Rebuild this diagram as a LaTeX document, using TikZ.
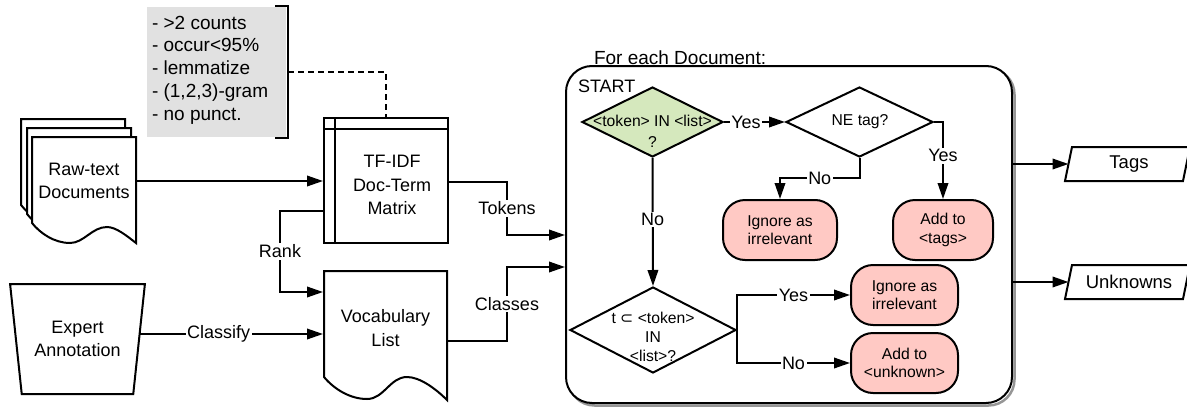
\documentclass[tikz,border=0pt]{standalone}
\usepackage{fontspec}
\setmainfont{Liberation Sans}
\newfontfamily\symfont{DejaVu Sans}
\usetikzlibrary{arrows.meta,shapes.geometric}
\definecolor{notegray}{RGB}{225,225,225}
\definecolor{decgreen}{RGB}{213,232,189}
\definecolor{endpink}{RGB}{255,201,196}
\definecolor{shadowgray}{RGB}{150,150,150}

\begin{document}
\begin{tikzpicture}[x=1pt,y=-1pt, line width=2pt,
  arr/.style={-{Triangle[length=16pt,width=10.5pt]}},
  big/.style={font=\fontsize{18}{23.5}\selectfont},
  sml/.style={font=\fontsize{15.7}{18.5}\selectfont},
  lbl/.style={fill=white, inner sep=1.5pt, font=\fontsize{18}{22}\selectfont},
  dec/.style={draw, shape=diamond, inner sep=0pt},
  term/.style={draw, fill=endpink, rounded corners=22pt, sml, align=center,
               minimum height=60pt, inner sep=0pt},
  docpage/.style={draw, fill=white},
]
\useasboundingbox (0,0) rectangle (1187,407);

% preprocessing note with bracket
\node[fill=notegray, minimum width=139, minimum height=130, anchor=north west,
      inner sep=0] (note) at (146,6) {};
\node[anchor=west, align=left, font=\fontsize{19}{22.8}\selectfont, inner sep=0]
  (notetext) at (151,70) {- >2 counts\\- occur<95\%\\- lemmatize\\- (1,2,3)-gram\\- no punct.};
\draw ([xshift=-12pt]note.north east) -- ([xshift=1pt]note.north east)
   -- ([xshift=1pt]note.south east) -- ([xshift=-12pt]note.south east);

% TF-IDF matrix
\node[draw, minimum width=124, minimum height=125, inner sep=0] (tf) at (386,180.5) {};
\draw ([xshift=12pt]tf.north west) -- ([xshift=12pt]tf.south west);
\draw ([yshift=-12pt]tf.north west) -- ([yshift=-12pt]tf.north east);
\node[big, align=center, inner sep=0] (tftext) at (392,185) {TF-IDF\\Doc-Term\\Matrix};
\draw[dashed, dash pattern=on 6pt off 4pt] ([xshift=1pt]note.east) -| (tf.north);

% stack of raw documents
\foreach \dx/\dy in {21/119, 27/128, 32/137}
  \draw[docpage, shift={(\dx,\dy)}] (0,0) -- (104,0) -- (104,106)
    .. controls (95,99) and (84,90) .. (75,90)
    .. controls (60,90) and (52,106) .. (38,106)
    .. controls (22,106) and (8,96) .. (0,86) -- cycle;
\node[big, align=center, minimum width=104, inner sep=0] (raw) at (84,181) {Raw-text\\Documents};
\draw[arr] (raw.east) -- (tf.west |- raw.east);

% expert annotation
\node[draw, trapezium, trapezium angle=76, shape border rotate=180,
      trapezium stretches=true, minimum width=135, minimum height=110,
      big, align=center, inner sep=0] (expert) at (77.5,339) {Expert\\Annotation};

% vocabulary list
\draw[docpage, shift={(324,271)}] (0,0) -- (123,0) -- (123,129)
  .. controls (112,118) and (96,106) .. (83,106)
  .. controls (66,106) and (60,128) .. (43,128)
  .. controls (26,128) and (10,118) .. (0,106) -- cycle;
\node[big, align=center, minimum width=123, inner sep=0] (voc) at (385.5,328) {Vocabulary\\List};

\coordinate (clsfrom) at ([yshift=5pt]expert.east);
\draw[arr] (clsfrom) -- node[lbl, pos=0.43]{Classify} (voc.west |- clsfrom);
\coordinate (rankturn) at (280,292);
\draw[arr] ([yshift=-30.5pt]tf.west) -| node[lbl, pos=0.75]{Rank} (rankturn)
  -- (voc.west |- rankturn);

% per-document loop
\draw[shadowgray, line width=2.5pt, rounded corners=26pt] (568.5,68.5) rectangle (1014.5,405.5);
\node[draw, fill=white, rounded corners=26pt, minimum width=446, minimum height=337,
      inner sep=0] (loop) at (789,234.5) {};
\node[anchor=base west, inner sep=0, font=\fontsize{19}{22}\selectfont] (foreach) at (593,64) {For each Document:};
\node[anchor=base west, inner sep=0, big] (start) at (577,92) {START};

\coordinate (tokturn) at (507,235);
\draw[arr] ([yshift=-1.5pt]tf.east) -| node[lbl, pos=0.75]{Tokens} (tokturn)
  -- (loop.west |- tokturn);
\coordinate (clsturn) at (507,267);
\draw[arr] ([yshift=-13pt]voc.east) -| node[lbl, pos=0.75]{Classes} (clsturn)
  -- (loop.west |- clsturn);

% decisions
\node[dec, fill=decgreen, minimum width=141, minimum height=70] (d1) at (652.5,122) {};
\node[align=center, inner sep=0, font=\fontsize{15.7}{21}\selectfont] (d1t) at (652.5,131.5) {<token> IN <list>\\?};
\node[dec, fill=white, minimum width=147, minimum height=70] (d2) at (859.5,122) {};
\node[sml, inner sep=0] (d2t) at (860,122) {NE tag?};
\node[dec, fill=white, minimum width=166, minimum height=86] (d3) at (653,330) {};
\node[align=center, inner sep=0, font=\fontsize{15.7}{19}\selectfont] (d3t) at (653,337)
  {t {\symfont ⊂} <token>\\IN\\<list>?};

% outcomes
\node[term, minimum width=114] (ig1) at (780,230) {Ignore as\\irrelevant};
\node[term, minimum width=100] (addtags) at (943,230) {Add to\\<tags>};
\node[term, minimum width=107] (ig2) at (904.5,295) {Ignore as\\irrelevant};
\node[term, minimum width=107] (addunk) at (904.5,363) {Add to\\<unknown>};

\draw[arr] (d1.east) -- node[lbl, pos=0.36]{Yes} (d2.west);
\draw[arr] (d2.east) -| node[lbl, pos=0.72]{Yes} (addtags.north);
\draw[arr] (d2.south) -- ++(0,20) -| node[lbl, pos=0.25]{No} (ig1.north);
\draw[arr] (d1.south) -- node[lbl, pos=0.48]{No} (d3.north);
\draw[arr] (d3.east) |- node[lbl, pos=0.75]{Yes} (ig2.west);
\draw[arr] (d3.east) |- node[lbl, pos=0.75]{No} (addunk.west);

% outputs
\draw (1065,181) -- (1183,181) -- (1190,147) -- (1072,147) -- cycle;
\node[inner sep=0, font=\fontsize{18.5}{22}\selectfont] (tags) at (1129,164) {Tags};
\coordinate (tagsin) at (1068.5,164);
\draw[arr] (loop.east |- tagsin) -- (tagsin);
\draw (1065,299) -- (1183,299) -- (1190,265) -- (1072,265) -- cycle;
\node[inner sep=0, font=\fontsize{18.5}{22}\selectfont] (unknowns) at (1129,282) {Unknowns};
\coordinate (unkin) at (1068.5,282);
\draw[arr] (loop.east |- unkin) -- (unkin);
\end{tikzpicture}
\end{document}
